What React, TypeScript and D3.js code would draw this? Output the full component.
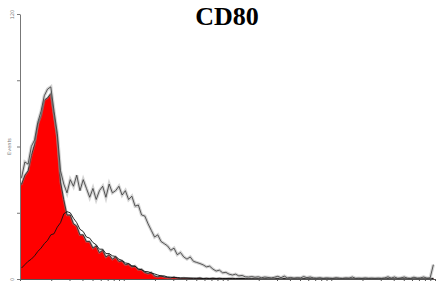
import React, { useEffect, useRef } from 'react';
import * as d3 from 'd3';

// 128 channel bins, counts
const control = [
  43, 47, 49, 56, 61, 70, 74, 81, 82, 84,
  74, 64, 44, 36, 29, 29, 25, 24, 20, 20,
  17, 17, 14, 15, 12, 13, 10, 11, 9, 10,
  8, 8.2, 6.5, 6.8, 5.5, 5.9, 4.2, 4.4, 3, 2.5,
  3, 1.4, 1, 1.4, 0.9, 0.7, 0.5, 0.9, 0.4, 0.3,
  0.5, 0.3, 0.4, 0.2, 0.3, 0.5, 0.2, 0.3, 0.2, 0.4,
  0.2, 0.3, 0.2, 0.2, 0.3, 0.2, 0.1, 0.2, 0.3, 0.1,
  0.2, 0.1, 0.2, 0.1, 0.1, 0.2, 0.1, 0.1, 0.2, 0.1,
  0.1, 0.2, 0.1, 0.1, 0.1, 0.2, 0.1, 0.1, 0.1, 0.2,
  0.1, 0.1, 0.1, 0.1, 0.2, 0.1, 0.1, 0.1, 0.1, 0.1,
  0.2, 0.1, 0.1, 0.1, 0.1, 0.1, 0.1, 0.2, 0.1, 0.1,
  0.1, 0.1, 0.1, 0.2, 0.1, 0.1, 0.1, 0.1, 0.1, 0.1,
  0.1, 0.1, 0.1, 0.1, 0.1, 0.1, 0.1, 0.3,
];

const unstim = [
  5, 6.5, 8, 9, 10.5, 12.5, 14, 16, 17.5, 20,
  20.5, 23.5, 25.5, 29.5, 30.5, 30, 27.5, 25.5, 22.5, 21.5,
  19, 18.5, 16.5, 15.5, 13.5, 13.5, 11.5, 11.5, 10.5, 10.2,
  9, 8.4, 7.3, 7, 6, 5.8, 4.6, 4.2, 3.4, 3.3,
  2.7, 2.3, 1.8, 1.4, 1.4, 0.9, 0.8, 0.6, 0.7, 0.5,
  0.4, 0.5, 0.3, 0.4, 0.3, 0.3, 0.2, 0.3, 0.2, 0.2,
  0.2, 0.3, 0.2, 0.2, 0.2, 0.3, 0.2, 0.2, 0.2, 0.2,
  0.2, 0.2, 0.2, 0.2, 0.2, 0.2, 0.2, 0.2, 0.2, 0.2,
  0.2, 0.2, 0.2, 0.2, 0.2, 0.2, 0.2, 0.2, 0.2, 0.2,
  0.2, 0.2, 0.2, 0.2, 0.2, 0.2, 0.2, 0.2, 0.2, 0.2,
  0.2, 0.2, 0.2, 0.2, 0.2, 0.2, 0.2, 0.2, 0.2, 0.2,
  0.2, 0.2, 0.2, 0.2, 0.2, 0.2, 0.2, 0.2, 0.2, 0.2,
  0.2, 0.2, 0.2, 0.2, 0.2, 0.2, 0.2, 0.2,
];

const stim = [
  46, 53, 52, 60, 63, 71, 76, 83, 86, 87,
  76, 66, 49, 43, 39, 45, 42, 47, 40, 45,
  41, 37, 41, 36, 40, 42, 37, 43, 39, 40,
  42, 38, 40, 36, 37.5, 33, 33.5, 29, 28.5, 25,
  22, 19, 20, 17, 16, 15, 13, 14, 11, 12,
  10, 9, 10, 8, 7.5, 7, 6.4, 5.5, 5.8, 4.5,
  3.6, 4, 2.8, 3, 2.2, 1.8, 2.2, 1.4, 1.6, 1,
  0.9, 1.1, 0.8, 1, 0.6, 0.9, 0.7, 0.5, 0.8, 1.2,
  0.6, 1.3, 0.5, 0.7, 0.4, 0.6, 0.5, 1.1, 0.6, 0.9,
  0.5, 0.4, 0.6, 0.3, 0.5, 0.4, 0.3, 0.6, 0.4, 0.3,
  0.5, 0.4, 0.9, 0.3, 0.4, 0.3, 0.5, 0.3, 0.4, 0.3,
  0.4, 0.3, 0.5, 1, 0.4, 0.9, 0.3, 0.5, 0.9, 0.4,
  0.3, 0.8, 0.4, 0.5, 0.9, 0.4, 0.5, 6.5,
];

const yTicks = [0, 30, 60, 90, 120];
const title = 'CD80';
const yLabel = 'Events';

export default function App() {
  const svgRef = useRef<SVGSVGElement>(null);

  useEffect(() => {
    if (!svgRef.current) return;
    const W = 437, H = 281;
    const svg = d3.select(svgRef.current);
    svg.selectAll('*').remove();

    const left = 20, right = 435, top = 14, bottom = 279;
    const nBins = control.length;

    const x = d3.scaleLinear().domain([0, nBins]).range([left, right]);
    const xLog = d3.scaleLog().domain([1, 1e4]).range([left, right]);
    const y = d3.scaleLinear().domain([0, 120]).range([bottom, top]);

    const pts = (arr: number[]) => arr.map((v, i) => [i + 0.5, v] as [number, number]);

    const area = d3.area<[number, number]>()
      .x(d => x(d[0])).y0(bottom).y1(d => y(d[1]));
    const line = d3.line<[number, number]>()
      .x(d => x(d[0])).y(d => y(d[1]));

    // control: red fill, fuzzy dark outline
    const ctrlPts: [number, number][] = [[0, control[0]], ...pts(control)];
    svg.append('path').attr('d', area(ctrlPts)).attr('fill', '#ff0000');
    svg.append('path').attr('d', line(ctrlPts))
      .attr('fill', 'none').attr('stroke', '#888').attr('stroke-width', 2.4).attr('opacity', 0.5);
    svg.append('path').attr('d', line(ctrlPts))
      .attr('fill', 'none').attr('stroke', '#222').attr('stroke-width', 0.8);

    // unstimulated: black line
    svg.append('path').attr('d', line(pts(unstim)))
      .attr('fill', 'none').attr('stroke', '#111').attr('stroke-width', 0.9);

    // stimulated: grey noisy line
    const stimPts: [number, number][] = [[0, stim[0]], ...pts(stim)];
    svg.append('path').attr('d', line(stimPts))
      .attr('fill', 'none').attr('stroke', '#aaa').attr('stroke-width', 3.2).attr('opacity', 0.5);
    svg.append('path').attr('d', line(stimPts))
      .attr('fill', 'none').attr('stroke', '#333').attr('stroke-width', 0.8);

    // x axis (log decades)
    const gx = svg.append('g').attr('transform', `translate(0,${bottom})`)
      .call(d3.axisBottom(xLog).tickSize(2).tickFormat(() => '').tickSizeOuter(0));
    gx.select('.domain').attr('stroke', '#555');
    gx.selectAll('.tick line').attr('stroke', '#555');

    // y axis
    const gy = svg.append('g').attr('transform', `translate(${left},0)`)
      .call(d3.axisLeft(y).tickValues(yTicks).tickSize(3).tickSizeOuter(0)
        .tickFormat(d => (d === 0 || d === 120 ? String(d) : '')));
    gy.select('.domain').attr('stroke', '#777');
    gy.selectAll('.tick line').attr('stroke', '#777');
    gy.selectAll('.tick text')
      .attr('font-size', '5px').attr('fill', '#777')
      .attr('font-family', 'DejaVu Sans')
      .attr('text-anchor', 'middle')
      .attr('transform', 'rotate(-90)')
      .attr('x', 0).attr('y', -6).attr('dy', 0);

    svg.append('text')
      .attr('transform', `translate(11,${(top + bottom) / 2}) rotate(-90)`)
      .attr('text-anchor', 'middle')
      .attr('font-size', '5px').attr('fill', '#777')
      .attr('font-family', 'DejaVu Sans').text(yLabel);

    svg.append('text').attr('x', 227).attr('y', 25)
      .attr('text-anchor', 'middle')
      .attr('font-family', "'Liberation Serif', 'Times New Roman', serif")
      .attr('font-weight', 'bold').attr('font-size', '26px')
      .attr('fill', '#000').text(title);

    svg.attr('width', W).attr('height', H);
  }, []);

  return (
    <div style={{ position: 'fixed', left: 0, top: 0, width: 437, height: 281, background: '#fff' }}>
      <svg ref={svgRef} width={437} height={281} style={{ display: 'block' }} />
    </div>
  );
}
